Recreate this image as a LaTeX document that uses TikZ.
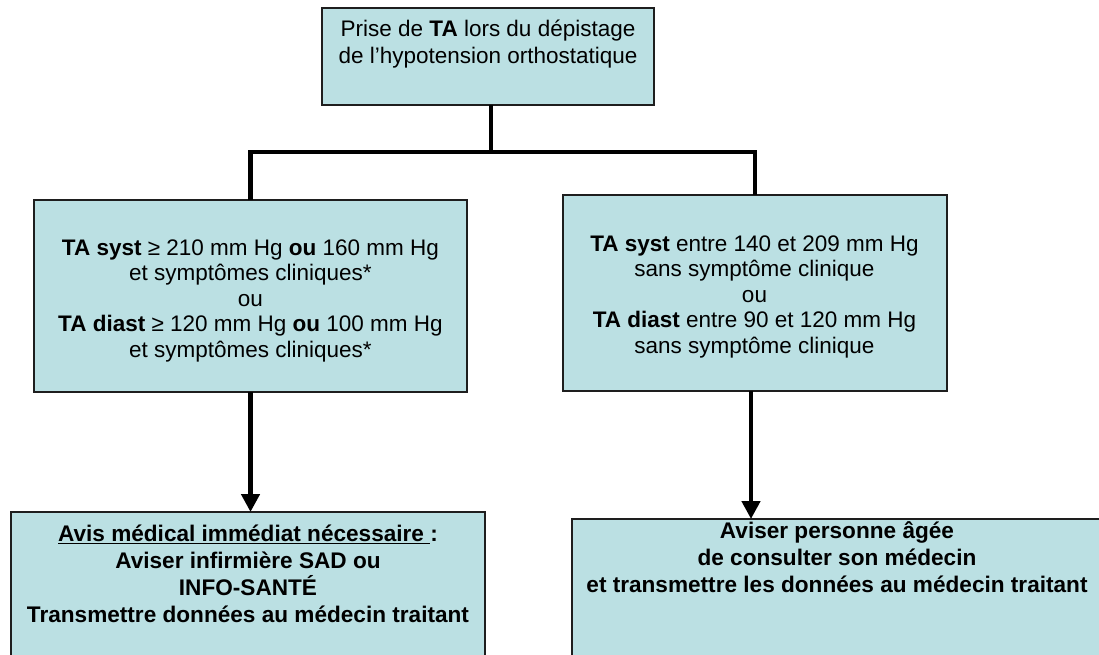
\documentclass[tikz,border=0pt]{standalone}
\usepackage{fontspec}
\setmainfont{Liberation Sans}
\usetikzlibrary{arrows.meta}
\definecolor{boxfill}{RGB}{187,224,227}
\definecolor{boxline}{RGB}{30,30,30}
\begin{document}
\begin{tikzpicture}[x=1pt,y=-1pt,
  box/.style={draw=boxline, line width=1.5pt, fill=boxfill, inner sep=0pt, outer sep=0pt},
  txt/.style={align=center, inner sep=0pt, anchor=north},
  reg/.style={font=\fontsize{22.5}{25.5}\selectfont},
  bld/.style={font=\fontsize{22.6}{27}\selectfont\bfseries},
  conn/.style={line width=4.5pt, line join=miter, draw=black},
  arr/.style={conn, -{Triangle[width=18pt,length=18pt]}}]
\useasboundingbox (0,0) rectangle (1099,654);
\clip (0,0) rectangle (1099,654);
\fill[white] (0,0) rectangle (1099,654);
% boxes
\node[box, minimum width=332pt, minimum height=97pt] (top) at (488,56.5) {};
\node[box, minimum width=433pt, minimum height=192pt] (left) at (250.5,296) {};
\node[box, minimum width=384pt, minimum height=196pt] (right) at (755,293) {};
\node[box, minimum width=474pt, minimum height=168pt] (botL) at (248,596) {};
\node[box, minimum width=548pt, minimum height=161pt] (botR) at (846,599.5) {};
% texts
\node[txt, font=\fontsize{22.5}{27.5}\selectfont] (toptext) at (488,16)
  {\rule{0pt}{20pt}Prise de \textbf{TA} lors du dépistage\\de l’hypotension orthostatique};
\node[txt, reg] (lefttext) at (250.5,235)
  {\rule{0pt}{20pt}\textbf{TA syst} ≥ 210 mm Hg \textbf{ou} 160 mm Hg\\et symptômes cliniques*\\ou\\\textbf{TA diast} ≥ 120 mm Hg \textbf{ou} 100 mm Hg\\et symptômes cliniques*};
\node[txt, reg] (righttext) at (754.5,231)
  {\rule{0pt}{20pt}\textbf{TA syst} entre 140 et 209 mm Hg\\sans symptôme clinique\\ou\\\textbf{TA diast} entre 90 et 120 mm Hg\\sans symptôme clinique};
\node[txt, bld] (botLtext) at (248,521)
  {\rule{0pt}{20pt}\underline{Avis médical immédiat nécessaire\ }:\\Aviser infirmière SAD ou\\INFO-SANTÉ\\Transmettre données au médecin traitant};
\node[txt, bld] (botRtext) at (837,518)
  {\rule{0pt}{20pt}Aviser personne âgée\\de consulter son médecin\\et transmettre les données au médecin traitant};
% connectors
\coordinate (bar) at (0,152);
\draw[conn] ([xshift=3pt]top.south) -- ([xshift=3pt]top.south |- bar);
\draw[conn] (left.north) -- (left.north |- bar) -- (right.north |- bar) -- (right.north);
\draw[arr] (left.south) -- (left.south |- botL.north);
\draw[arr] ([xshift=-4pt]right.south) -- ([xshift=-4pt]right.south |- botR.north);
\end{tikzpicture}
\end{document}
